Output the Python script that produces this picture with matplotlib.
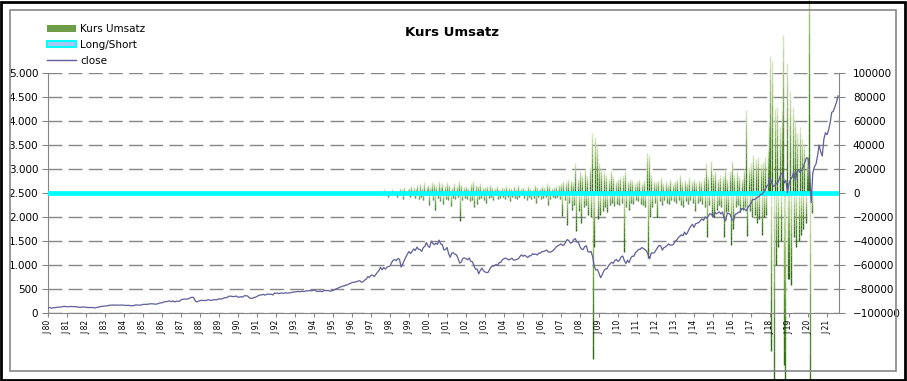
import numpy as np
import matplotlib
matplotlib.use("Agg")
import matplotlib.pyplot as plt
import matplotlib.colors as mcolors
from matplotlib.collections import LineCollection
from matplotlib.lines import Line2D
from matplotlib.patches import Patch, Rectangle
from matplotlib.ticker import FuncFormatter, MultipleLocator

# ============================================================
#  Data
# ============================================================

# close: monthly values, first month Jan 1980
close_start = 1980
close = [
    114, 114, 102, 106, 111, 114, 122, 122, 125, 127, 141, 136,          # 1980
    130, 131, 136, 133, 133, 131, 131, 123, 116, 122, 126, 122,          # 1981
    120, 113, 112, 116, 112, 110, 107, 120, 120, 134, 139, 141,          # 1982
    145, 148, 153, 164, 162, 168, 163, 164, 166, 163, 166, 165,          # 1983
    163, 157, 159, 160, 151, 153, 151, 167, 166, 166, 164, 167,          # 1984
    180, 181, 181, 180, 190, 192, 191, 189, 182, 190, 202, 211,          # 1985
    212, 227, 238, 236, 247, 251, 236, 253, 231, 244, 249, 242,          # 1986
    274, 284, 292, 288, 290, 304, 319, 330, 321, 252, 230, 247,          # 1987
    257, 268, 259, 261, 262, 274, 272, 262, 272, 279, 274, 278,          # 1988
    297, 289, 295, 310, 321, 318, 346, 351, 349, 340, 346, 353,          # 1989
    329, 332, 340, 331, 361, 358, 356, 323, 306, 304, 322, 330,          # 1990
    344, 367, 375, 375, 390, 371, 388, 395, 388, 392, 375, 417,          # 1991
    409, 413, 404, 415, 415, 408, 424, 414, 418, 419, 431, 436,          # 1992
    439, 443, 452, 440, 450, 451, 448, 464, 459, 468, 462, 466,          # 1993
    482, 467, 446, 451, 457, 444, 458, 475, 463, 472, 454, 459,          # 1994
    470, 487, 501, 515, 533, 545, 562, 562, 584, 582, 605, 616,          # 1995
    636, 640, 645, 654, 669, 671, 640, 652, 687, 705, 757, 741,          # 1996
    786, 791, 757, 801, 848, 885, 954, 899, 947, 915, 955, 970,          # 1997
    980, 1049, 1102, 1112, 1091, 1134, 1121, 957, 1017, 1099, 1164, 1229,  # 1998
    1280, 1238, 1286, 1335, 1302, 1373, 1329, 1320, 1283, 1363, 1389, 1469,  # 1999
    1394, 1366, 1499, 1452, 1421, 1455, 1431, 1518, 1437, 1429, 1315, 1320,  # 2000
    1366, 1240, 1160, 1249, 1256, 1224, 1211, 1134, 1041, 1060, 1139, 1148,  # 2001
    1130, 1107, 1147, 1077, 1067, 990, 912, 916, 815, 886, 936, 880,     # 2002
    856, 841, 848, 917, 964, 975, 990, 1008, 996, 1051, 1058, 1112,      # 2003
    1131, 1145, 1126, 1107, 1121, 1141, 1102, 1104, 1115, 1130, 1174, 1212,  # 2004
    1181, 1204, 1181, 1157, 1192, 1191, 1234, 1220, 1229, 1207, 1249, 1248,  # 2005
    1280, 1281, 1295, 1311, 1270, 1270, 1277, 1304, 1336, 1378, 1401, 1418,  # 2006
    1438, 1407, 1421, 1482, 1531, 1503, 1455, 1474, 1527, 1549, 1481, 1468,  # 2007
    1379, 1331, 1323, 1386, 1400, 1280, 1267, 1283, 1165, 969, 896, 903,     # 2008
    826, 735, 798, 873, 919, 919, 987, 1021, 1057, 1036, 1096, 1115,     # 2009
    1074, 1104, 1169, 1187, 1089, 1031, 1102, 1049, 1141, 1183, 1181, 1258,  # 2010
    1286, 1327, 1326, 1364, 1345, 1321, 1292, 1219, 1131, 1253, 1247, 1258,  # 2011
    1312, 1366, 1408, 1398, 1310, 1362, 1379, 1407, 1441, 1412, 1416, 1426,  # 2012
    1498, 1515, 1569, 1598, 1631, 1606, 1686, 1633, 1682, 1757, 1806, 1848,  # 2013
    1783, 1859, 1872, 1884, 1924, 1960, 1931, 2003, 1972, 2018, 2068, 2059,  # 2014
    1995, 2105, 2068, 2086, 2107, 2063, 2104, 1972, 1920, 2079, 2080, 2044,  # 2015
    1940, 1932, 2060, 2065, 2097, 2099, 2174, 2171, 2168, 2126, 2199, 2239,  # 2016
    2279, 2364, 2363, 2384, 2412, 2423, 2470, 2472, 2519, 2575, 2648, 2674,  # 2017
    2824, 2714, 2641, 2648, 2705, 2718, 2816, 2902, 2914, 2712, 2760, 2507,  # 2018
    2704, 2784, 2834, 2946, 2752, 2942, 2980, 2926, 2977, 3038, 3141, 3231,  # 2019
    3226, 2954, 2300, 2912, 3044, 3100, 3271, 3500, 3363, 3270, 3622, 3756,  # 2020
    3714, 3811, 3973, 4181, 4204, 4298, 4395, 4523,                      # 2021
]

# Kurs Umsatz: values in thousands, 16 per year, first bar at 1997.25
umsatz_start = 1997.25
umsatz_per_year = 16
umsatz_k = [
    0, 2, 0, -1, 1, 0, -2, 3, 1, 0, -3, 2,                               # 1997
    1, -2, 3, 0, -1, 2, -3, 1, 4, -2, 3, -5, 5, -2, 1, 3,                # 1998
    4, -3, 6, -2, 5, -4, 3, 7, -5, 8, -3, 4, -6, 9, -2, 5,               # 1999
    7, -10, 5, 9, -6, 8, -14, 6, -4, 10, -7, 5, 8, -9, 6, -5,            # 2000
    9, -6, 7, -11, 5, -4, 8, -5, 6, -3, 10, -23, 7, -6, 5, -4,           # 2001
    6, -5, 4, -7, 8, -6, 10, -12, 7, -9, 6, -5, 8, -4, 5, -6,            # 2002
    5, -8, 6, -4, 7, -3, 5, -6, 4, -2, 6, -5, 3, -4, 5, -3,              # 2003
    4, -5, 6, -3, 5, -7, 4, -3, 6, -4, 3, -5, 7, -3, 4, -2,              # 2004
    5, -4, 3, -6, 6, -3, 4, -5, 3, -4, 7, -8, 5, -3, 4, -5,              # 2005
    6, -4, 5, -3, 8, -10, 6, -5, 4, -3, 5, -4, 6, -3, 7, -5,             # 2006
    8, -19, 10, -6, 9, -27, 12, -8, 11, -14, 9, -10, 25, -32, 12, -15,   # 2007
    18, -25, 15, -12, 20, -10, 14, -18, 22, -20, 50, -138, -45, 47, 40, -22,  # 2008
    25, -18, 20, -15, 18, -12, 15, -16, 12, -10, 19, -8, 14, -11, 10, -9,     # 2009
    12, -10, 14, -8, 15, -49, 18, -12, 10, -14, 12, -8, 11, -9, 8, -6,        # 2010
    10, -7, 12, -9, 8, -10, 11, -12, 33, -54, 32, -20, 15, -12, 10, -8,       # 2011
    9, -20, 11, -7, 13, -10, 8, -6, 10, -8, 7, -9, 12, -6, 8, -7,             # 2012
    10, -8, 12, -6, 15, -10, 9, -12, 11, -7, 8, -9, 13, -6, 10, -8,           # 2013
    12, -15, 9, -8, 11, -7, 10, -9, 13, -12, 25, -37, 14, -10, 27, -18,       # 2014
    16, -20, 18, -14, 12, -10, 15, -12, 14, -37, 20, -16, 12, -15, 18, -43,   # 2015
    27, -30, 15, -12, 18, -10, 14, -16, 12, -14, 20, -12, 69, -36, 22, -15,   # 2016
    25, -20, 32, -18, 28, -25, 30, -22, 24, -35, 26, -20, 30, -18, 35, 60,    # 2017
    114, -132, 110, -175, 70, -60, 72, -45, 55, -40, 68, 132, -143, -175, 108, -72,  # 2018
    -72, 85, -77, 72, -37, 60, -45, 50, -40, 55, -35, 45, -30, 40, -25, 30,   # 2019
    30, 200, -200, -17,                                                  # 2020
]

long_short = 0  # Long/Short series sits on the zero line of the right axis

years = list(range(1980, 2022))
year_labels = [f"J {y % 100:02d}" for y in years]

# ============================================================
#  Style
# ============================================================

GRID = "#868686"
CLOSE_COLOR = "#5f5f9a"
CYAN = "#00ffff"
bar_cmap = mcolors.LinearSegmentedColormap.from_list(
    "umsatz", ["#dde9cb", "#93b96a", "#4a8528", "#2b6412"])

x_close = close_start + np.arange(len(close)) / 12.0
x_ums = umsatz_start + np.arange(len(umsatz_k)) / umsatz_per_year
v_ums = np.array(umsatz_k) * 1000.0

fig = plt.figure(figsize=(9.07, 3.81), dpi=100)
W, H = 907, 381
ax = fig.add_axes([48 / W, 1 - 313 / H, (839 - 48) / W, (313 - 73) / H])
ax2 = ax.twinx()

# close axis above the bar axis
ax.set_zorder(ax2.get_zorder() + 1)
ax.patch.set_visible(False)

# ---- bars (right axis), vertical gradient light top -> dark bottom
segs, cols = [], []
n_sub = 12
for x, v in zip(x_ums, v_ums):
    if v == 0:
        continue
    top, bot = max(v, 0), min(v, 0)
    edges = np.linspace(top, bot, n_sub + 1)
    for i in range(n_sub):
        segs.append([(x, edges[i]), (x, edges[i + 1])])
        cols.append(bar_cmap((i + 0.5) / n_sub))
lc = LineCollection(segs, colors=cols, linewidths=1.0, clip_on=False,
                    capstyle="butt")
ax2.add_collection(lc)

ax2.set_ylim(-100000, 100000)
ax2.yaxis.set_major_locator(MultipleLocator(20000))
ax2.grid(True, axis="y", color=GRID, linestyle=(0, (10, 4.5)), linewidth=1.0)
ax2.set_axisbelow(True)

# ---- Long/Short line and close (left axis)
ax.axhline(2500 + long_short, color=CYAN, linewidth=3.4, zorder=3)
ax.plot(x_close, close, color=CLOSE_COLOR, linewidth=0.9, zorder=4)

ax.set_ylim(0, 5000)
ax.set_xlim(1980, 2021.63)
ax.yaxis.set_major_locator(MultipleLocator(500))
ax.yaxis.set_major_formatter(
    FuncFormatter(lambda v, p: f"{v:,.0f}".replace(",", ".")))
ax.set_xticks(years)
ax.set_xticklabels(year_labels, rotation=90, fontsize=5.5)

# spines / ticks
for s in ["top", "right"]:
    ax.spines[s].set_visible(False)
for s in ["top", "left", "bottom"]:
    ax2.spines[s].set_visible(False)
ax.spines["left"].set_color(GRID)
ax.spines["bottom"].set_color(GRID)
ax2.spines["right"].set_color(GRID)
ax.tick_params(axis="y", direction="out", length=4, color=GRID,
               labelsize=7.5, pad=3)
ax.tick_params(axis="x", direction="out", length=3, color=GRID, pad=2)
ax2.tick_params(axis="y", direction="out", length=4, color=GRID,
                labelsize=7.5, pad=6)

# ---- title, legend, frames
fig.text(452 / W, 1 - 33 / H, "Kurs Umsatz", ha="center", va="center",
         fontsize=9.5, fontweight="bold")

handles = [
    Patch(facecolor="#6e9c48", edgecolor="none"),
    Patch(facecolor="#a9c6f2", edgecolor=CYAN, linewidth=1.5),
    Line2D([0], [0], color=CLOSE_COLOR, linewidth=1.0),
]
fig.legend(handles, ["Kurs Umsatz", "Long/Short", "close"],
           loc="upper left", bbox_to_anchor=(42 / W, 1 - 19 / H),
           frameon=False, fontsize=7.5, handlelength=2.8, handleheight=0.55,
           labelspacing=0.55, handletextpad=0.35, borderpad=0)

fig.patches.append(Rectangle((10 / W, 1 - 371 / H), 886 / W, 361 / H,
                             transform=fig.transFigure, fill=False,
                             edgecolor=GRID, linewidth=1.2))
fig.patches.append(Rectangle((0.5 / W, 1.5 / H), 1 - 3 / W, 1 - 3 / H,
                             transform=fig.transFigure, fill=False,
                             edgecolor="black", linewidth=2))

fig.savefig("out.png", dpi=100)
plt.close(fig)
